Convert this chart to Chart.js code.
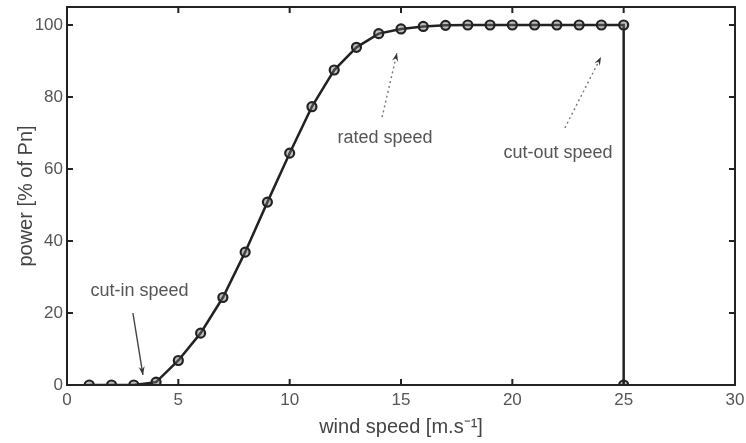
<!DOCTYPE html>
<html>
<head>
<meta charset="utf-8">
<script src="https://cdn.jsdelivr.net/npm/chart.js@4/dist/chart.umd.min.js"></script>
<style>
  html, body { margin: 0; padding: 0; background: #fff; }
  #wrap { width: 746px; height: 443px; }
  canvas { filter: blur(0.5px); }
</style>
</head>
<body>
<div id="wrap"><canvas id="power-curve"></canvas></div>
<script>
// power curve of the turbine, % of nominal power per wind speed
const windSpeed = [1, 2, 3, 4, 5, 6, 7, 8, 9, 10, 11, 12, 13, 14, 15, 16, 17, 18, 19, 20, 21, 22, 23, 24, 25, 25];
const powerPct  = [0, 0, 0, 0.8, 6.8, 14.4, 24.3, 36.9, 50.8, 64.4, 77.3, 87.5, 93.8, 97.6, 98.9, 99.6, 99.9, 100, 100, 100, 100, 100, 100, 100, 100, 0];

const xTicks = [0, 5, 10, 15, 20, 25, 30];
const yTicks = [0, 20, 40, 60, 80, 100];

// text labels with arrows, in data units
const notes = [
    {text: 'cut-in speed',  at: [3.26, 26.0], from: [2.96, 20.0], to: [3.41, 2.8],  dotted: false},
    {text: 'rated speed',   at: [14.28, 68.6], from: [14.15, 74.4], to: [14.82, 92.2], dotted: true},
    {text: 'cut-out speed', at: [22.05, 64.4], from: [22.36, 71.4], to: [23.98, 91.1], dotted: true},
];

const INK = '#222';
const TEXT = '#555';
const FONT = '"Liberation Sans", Arial, sans-serif';

const boxAndTicks = {
    id: 'boxAndTicks',
    afterDatasetsDraw(chart) {
        const {ctx, chartArea: a, scales} = chart;
        ctx.save();
        ctx.strokeStyle = INK;
        ctx.lineWidth = 2;
        ctx.strokeRect(a.left, a.top, a.right - a.left, a.bottom - a.top);
        const len = 6;
        ctx.beginPath();
        xTicks.forEach(v => {
            const px = scales.x.getPixelForValue(v);
            ctx.moveTo(px, a.bottom); ctx.lineTo(px, a.bottom - len);
            ctx.moveTo(px, a.top); ctx.lineTo(px, a.top + len);
        });
        yTicks.forEach(v => {
            const py = scales.y.getPixelForValue(v);
            ctx.moveTo(a.left, py); ctx.lineTo(a.left + len, py);
            ctx.moveTo(a.right, py); ctx.lineTo(a.right - len, py);
        });
        ctx.stroke();

        // annotations
        ctx.font = '18px ' + FONT;
        ctx.textAlign = 'center';
        ctx.textBaseline = 'middle';
        notes.forEach(n => {
            ctx.fillStyle = TEXT;
            ctx.fillText(n.text, scales.x.getPixelForValue(n.at[0]), scales.y.getPixelForValue(n.at[1]));

            const x0 = scales.x.getPixelForValue(n.from[0]);
            const y0 = scales.y.getPixelForValue(n.from[1]);
            const x1 = scales.x.getPixelForValue(n.to[0]);
            const y1 = scales.y.getPixelForValue(n.to[1]);
            ctx.strokeStyle = n.dotted ? '#777' : '#444';
            ctx.lineWidth = 1.4;
            ctx.setLineDash(n.dotted ? [2, 3] : []);
            ctx.beginPath();
            ctx.moveTo(x0, y0);
            ctx.lineTo(x1, y1);
            ctx.stroke();
            ctx.setLineDash([]);

            const ang = Math.atan2(y1 - y0, x1 - x0);
            const h = 9, w = 0.35;
            ctx.fillStyle = '#333';
            ctx.beginPath();
            ctx.moveTo(x1, y1);
            ctx.lineTo(x1 - h * Math.cos(ang - w), y1 - h * Math.sin(ang - w));
            ctx.lineTo(x1 - h * 0.6 * Math.cos(ang), y1 - h * 0.6 * Math.sin(ang));
            ctx.lineTo(x1 - h * Math.cos(ang + w), y1 - h * Math.sin(ang + w));
            ctx.closePath();
            ctx.fill();
        });
        ctx.restore();
    }
};

new Chart(document.getElementById('power-curve'), {
    type: 'line',
    data: {
        datasets: [{
            data: windSpeed.map((x, i) => ({x: x, y: powerPct[i]})),
            borderColor: INK,
            borderWidth: 2.5,
            pointRadius: 4.5,
            pointBorderWidth: 2.2,
            pointBorderColor: INK,
            pointBackgroundColor: 'rgba(110,110,110,0.45)',
            tension: 0,
            fill: false,
        }],
    },
    options: {
        responsive: true,
        maintainAspectRatio: false,
        animation: false,
        layout: {padding: {top: 7, right: 11, left: 0, bottom: 0}},
        plugins: {
            legend: {display: false},
            tooltip: {enabled: false},
        },
        scales: {
            x: {
                type: 'linear',
                min: 0,
                max: 30,
                afterBuildTicks: s => { s.ticks = xTicks.map(v => ({value: v})); },
                afterFit: s => { s.height = 58; s.paddingLeft = 0; s.paddingRight = 0; },
                grid: {display: false, drawTicks: false},
                border: {display: false},
                ticks: {color: TEXT, font: {family: FONT, size: 17}, padding: 5},
                title: {
                    display: true,
                    text: 'wind speed [m.s\u207B\u00B9]',
                    color: '#444',
                    font: {family: FONT, size: 20},
                    padding: {top: 0},
                },
            },
            y: {
                min: 0,
                max: 105,
                afterBuildTicks: s => { s.ticks = yTicks.map(v => ({value: v})); },
                afterFit: s => { s.width = 67; s.paddingTop = 0; s.paddingBottom = 0; },
                grid: {display: false, drawTicks: false},
                border: {display: false},
                ticks: {color: TEXT, font: {family: FONT, size: 17}, padding: 4},
                title: {
                    display: true,
                    text: 'power [% of Pn]',
                    color: '#444',
                    font: {family: FONT, size: 20},
                    padding: {top: 14, bottom: 0},
                },
            },
        },
    },
    plugins: [boxAndTicks],
});
</script>
</body>
</html>
